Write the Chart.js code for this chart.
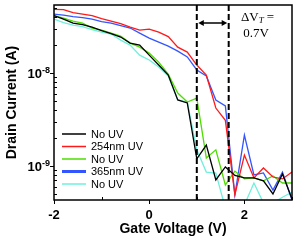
<!DOCTYPE html>
<html>
<head>
<meta charset="utf-8">
<script src="https://cdn.jsdelivr.net/npm/chart.js@4.4.0/dist/chart.umd.min.js"></script>
<style>
  html, body { margin: 0; padding: 0; background: #fff; }
</style>
</head>
<body>
<canvas id="chart" width="300" height="242"></canvas>
<script>
(function() {

  "use strict";

  // gate voltage (V), shared by all sweeps
  var gateVoltage = [-2, -1.8, -1.6, -1.4, -1.2, -1, -0.8, -0.6, -0.4, -0.2, 0, 0.2, 0.4,
    0.6, 0.8, 1, 1.2, 1.4, 1.6, 1.8, 2, 2.2, 2.4, 2.6, 2.8, 3];

  // drain current (A)
  var noUV1 = [4.15e-8, 3.8e-8, 3.45e-8, 3.32e-8, 3.12e-8, 2.86e-8, 2.66e-8, 2.44e-8, 2.1e-8, 2.0e-8,
    1.56e-8, 1.22e-8, 9.5e-9, 5.13e-9, 4.76e-9, 1.19e-9, 1.68e-9, 7.07e-10, 9.75e-10, 7.9e-10,
    7.43e-10, 7.43e-10, 6.9e-10, 5.0e-10, 8.2e-10, 4.4e-10];
  var uv254 = [4.84e-8, 4.82e-8, 4.48e-8, 4.31e-8, 4.15e-8, 3.85e-8, 3.62e-8, 3.41e-8, 3.12e-8, 2.9e-8,
    2.97e-8, 2.76e-8, 2.47e-8, 1.9e-8, 1.68e-8, 1.22e-8, 9.5e-9, 4.2e-9, 3.1e-9, 4.9e-10,
    1.31e-9, 7.43e-10, 9.5e-10, 7.6e-10, 7.25e-10, 8.6e-10];
  var noUV2 = [4.15e-8, 3.9e-8, 3.62e-8, 3.45e-8, 3.05e-8, 2.9e-8, 2.69e-8, 2.5e-8, 2.1e-8, 1.9e-8,
    1.64e-8, 1.31e-8, 9.75e-9, 6.1e-9, 4.88e-9, 5.38e-9, 1.22e-9, 1.49e-9, 6.25e-10, 8.8e-10,
    7.25e-10, 7.43e-10, 6.9e-10, 7.8e-10, 6.55e-10, 6.55e-10];
  var uv365 = [4.3e-8, 4.2e-8, 4.05e-8, 3.95e-8, 3.8e-8, 3.58e-8, 3.45e-8, 3.24e-8, 3.05e-8, 2.69e-8,
    2.38e-8, 2.15e-8, 1.95e-8, 1.72e-8, 1.49e-8, 1.08e-8, 9.3e-9, 5.13e-9, 4.42e-9, 4.9e-10,
    2.15e-9, 8.0e-10, 8.4e-10, 5.5e-10, 8.6e-10, 4.3e-10];
  var noUV3 = [3.81e-8, 3.49e-8, 3.28e-8, 3.16e-8, 2.94e-8, 2.76e-8, 2.63e-8, 2.26e-8, 2.0e-8, 1.56e-8,
    1.38e-8, 1.16e-8, 9.3e-9, 5.13e-9, 4.88e-9, 1.49e-9, 8.6e-10, 8.4e-10, 3.5e-10, 3.5e-10,
    3.8e-10, 6.56e-10, 4.0e-10, 4.0e-10, 4.6e-10, 5.25e-10];

  var seriesLabels = ["No UV", "254nm UV", "No UV", "365nm UV", "No UV"];
  var seriesColors = ["#000000", "#ff1a1a", "#4ddd00", "#3355ff", "#6ef0dc"];
  var seriesData = [noUV1, uv254, noUV2, uv365, noUV3];

  // threshold markers (V)
  var thresholdLines = [1.0, 1.67];
  var xTickLabels = ["-2", "0", "2"];

  var datasets = seriesData.map(function(vals, i) {
    return {
      label: seriesLabels[i],
      data: vals.map(function(v, j) { return { x: gateVoltage[j], y: v }; }),
      borderColor: seriesColors[i],
      borderWidth: 1.3,
      pointRadius: 0,
      tension: 0,
      fill: false
    };
  });

  // frame, ticks, labels, legend, dashed lines
  var decorations = {
    id: "decorations",
    afterDatasetsDraw: function(chart) {
      var ctx = chart.ctx;
      var a = chart.chartArea;
      var xs = chart.scales.x;
      var ys = chart.scales.y;
      ctx.save();

      // box
      ctx.strokeStyle = "#000";
      ctx.lineWidth = 1.5;
      ctx.strokeRect(a.left, a.top, a.right - a.left, a.bottom - a.top);

      // y ticks (log)
      ctx.lineWidth = 1;
      for (var d = -10; d <= -7; d++) {
        for (var m = 1; m <= 9; m++) {
          var v = m * Math.pow(10, d);
          if (v < ys.min || v > ys.max) continue;
          var py = Math.round(ys.getPixelForValue(v)) + 0.5;
          ctx.beginPath();
          if (m === 1) {
            ctx.moveTo(a.left - 4, py); ctx.lineTo(a.left, py);
          } else {
            ctx.moveTo(a.left, py); ctx.lineTo(a.left + 3, py);
          }
          ctx.stroke();
          if (m === 1) {
            ctx.fillStyle = "#000";
            ctx.font = "bold 9px 'Liberation Sans', Arial, sans-serif";
            ctx.textAlign = "right";
            ctx.textBaseline = "alphabetic";
            var sup = String(d);
            var supW = ctx.measureText(sup).width;
            ctx.fillText(sup, 50, py - 0.5);
            ctx.font = "bold 13px 'Liberation Sans', Arial, sans-serif";
            ctx.fillText("10", 50 - supW, py + 4.5);
          }
        }
      }

      // x ticks
      for (var t = -2; t <= 3; t++) {
        var px = Math.round(xs.getPixelForValue(t)) + 0.5;
        ctx.beginPath();
        if (t % 2 === 0) {
          ctx.moveTo(px, a.bottom); ctx.lineTo(px, a.bottom + 4);
        } else {
          ctx.moveTo(px, a.bottom); ctx.lineTo(px, a.bottom - 3);
        }
        ctx.stroke();
      }

      // dashed threshold lines
      ctx.lineWidth = 2;
      ctx.setLineDash([6, 3]);
      var lx = thresholdLines.map(function(v) { return xs.getPixelForValue(v); });
      lx.forEach(function(x) {
        ctx.beginPath();
        ctx.moveTo(x, a.top);
        ctx.lineTo(x, a.bottom);
        ctx.stroke();
      });
      ctx.setLineDash([]);

      // double arrow between them
      var ay = 23;
      ctx.lineWidth = 1.5;
      ctx.beginPath();
      ctx.moveTo(lx[0] + 4, ay); ctx.lineTo(lx[1] - 4, ay);
      ctx.stroke();
      ctx.fillStyle = "#000";
      ctx.beginPath();
      ctx.moveTo(lx[0] + 1.5, ay); ctx.lineTo(lx[0] + 7, ay - 3); ctx.lineTo(lx[0] + 7, ay + 3);
      ctx.closePath(); ctx.fill();
      ctx.beginPath();
      ctx.moveTo(lx[1] - 1.5, ay); ctx.lineTo(lx[1] - 7, ay - 3); ctx.lineTo(lx[1] - 7, ay + 3);
      ctx.closePath(); ctx.fill();

      // delta V_T annotation
      ctx.textAlign = "left";
      ctx.textBaseline = "alphabetic";
      ctx.font = "13px 'Liberation Serif', 'Times New Roman', serif";
      var tx = 241;
      ctx.fillText("\u0394V", tx, 21);
      tx += ctx.measureText("\u0394V").width;
      ctx.font = "italic 9px 'Liberation Serif', 'Times New Roman', serif";
      ctx.fillText("T", tx, 23);
      tx += ctx.measureText("T").width + 3;
      ctx.font = "13px 'Liberation Serif', 'Times New Roman', serif";
      ctx.fillText("=", tx, 21);
      ctx.textAlign = "center";
      ctx.fillText("0.7V", 256, 37);

      // legend
      ctx.font = "11px 'Liberation Sans', Arial, sans-serif";
      ctx.textAlign = "left";
      ctx.textBaseline = "middle";
      for (var i = 0; i < seriesLabels.length; i++) {
        var ly = 134 + i * 12.5;
        ctx.strokeStyle = seriesColors[i];
        ctx.lineWidth = i === 3 ? 3 : 1.5;
        ctx.beginPath();
        ctx.moveTo(62, ly); ctx.lineTo(86, ly);
        ctx.stroke();
        ctx.fillStyle = "#000";
        ctx.fillText(seriesLabels[i], 91, ly + 0.5);
      }

      ctx.restore();
    }
  };

  new Chart(document.getElementById("chart"), {
    type: "line",
    data: { datasets: datasets },
    plugins: [decorations],
    options: {
      responsive: false,
      animation: false,
      layout: { padding: { top: 5, right: 6, left: 0, bottom: 0 } },
      plugins: {
        legend: { display: false },
        tooltip: { enabled: false }
      },
      scales: {
        x: {
          type: "linear",
          min: -2,
          max: 3,
          grid: { display: false, drawTicks: false },
          border: { display: false },
          afterFit: function(scale) { scale.height = 42; },
          ticks: {
            stepSize: 1,
            padding: 8,
            color: "#000",
            font: { family: "'Liberation Sans', Arial, sans-serif", size: 13, weight: "bold" },
            maxRotation: 0,
            callback: function(v) {
              var idx = [-2, 0, 2].indexOf(v);
              return idx >= 0 ? xTickLabels[idx] : "";
            }
          },
          title: {
            display: true,
            text: "Gate Voltage (V)",
            color: "#000",
            font: { family: "'Liberation Sans', Arial, sans-serif", size: 14, weight: "bold" },
            padding: { top: 0, bottom: 4 }
          }
        },
        y: {
          type: "logarithmic",
          min: 4.3e-10,
          max: 5.4e-8,
          grid: { display: false, drawTicks: false },
          border: { display: false },
          afterFit: function(scale) { scale.width = 54; },
          ticks: { display: false },
          title: {
            display: true,
            text: "Drain Current (A)",
            color: "#000",
            font: { family: "'Liberation Sans', Arial, sans-serif", size: 14, weight: "bold" },
            padding: { top: 4, bottom: 0 }
          }
        }
      }
    }
  });

})();
</script>
</body>
</html>
